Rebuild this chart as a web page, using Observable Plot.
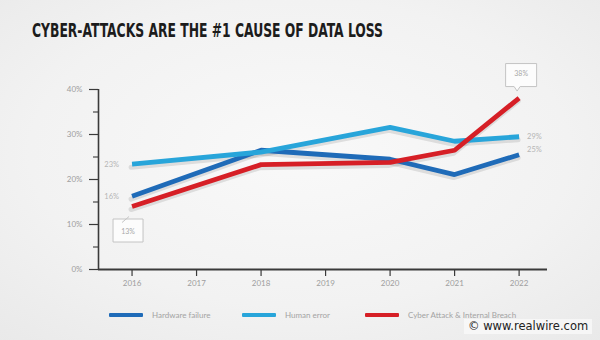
<!DOCTYPE html>
<html>
<head>
<meta charset="utf-8">
<script src="https://cdn.jsdelivr.net/npm/d3@7"></script>
<script src="https://cdn.jsdelivr.net/npm/@observablehq/plot@0.6"></script>
<style>
  html, body { margin: 0; padding: 0; }
  body { width: 600px; height: 340px; overflow: hidden; position: relative;
    background: radial-gradient(ellipse 75% 75% at 50% 45%, #f9f9f9 0%, #f2f2f2 60%, #e9e9e9 100%);
    font-family: Lato, "Open Sans", sans-serif; }
  #title { position: absolute; left: 32px; top: 21px; font-family: "Liberation Sans Narrow", "DejaVu Sans Condensed", sans-serif;
    font-weight: bold; font-size: 19px; line-height: 19px; color: #1c1c1c; white-space: nowrap; transform-origin: 0 0; }
  #chart { position: absolute; left: 0; top: 0; }
  #legend { position: absolute; left: 0; top: 309px; height: 12px; width: 600px; }
  .item { position: absolute; top: 0; display: flex; align-items: center; height: 12px; font-size: 8px; color: #a3a3a3; white-space: nowrap; }
  .sw { width: 34px; height: 4px; border-radius: 1px; margin-right: 9px; }
  #credit { position: absolute; left: 464px; top: 319px; font-family: "DejaVu Sans", sans-serif; font-size: 11.5px; line-height: 15px;
    color: #222; background: rgba(255,255,255,0.55); padding: 0 4px; white-space: nowrap; }
</style>
</head>
<body>
<div id="title"></div>
<div id="chart"></div>
<div id="legend"></div>
<div id="credit"></div>
<script>
const titleText = "CYBER-ATTACKS ARE THE #1 CAUSE OF DATA LOSS";
const creditText = "© www.realwire.com";

const seriesNames = ["Hardware failure", "Human error", "Cyber Attack & Internal Breach"];
const seriesColors = ["#1f6bb8", "#28a5da", "#d61f26"];

const years = [2016, 2018, 2020, 2021, 2022];
const hardware = [16.3, 26.5, 24.5, 21.1, 25.5];
const human = [23.4, 26.1, 31.6, 28.5, 29.5];
const cyber = [14.0, 23.3, 23.8, 26.5, 38.1];

const startLabels = ["16%", "23%", "13%"];
const endLabels = ["25%", "29%", "38%"];

const xTicks = [2016, 2017, 2018, 2019, 2020, 2021, 2022];
const yTicks = [0, 10, 20, 30, 40];
const yMinorTicks = [5, 15, 25, 35];
const xDomain = [2015.48, 2022.44];
const yDomain = [0, 40];

const valuesBySeries = [hardware, human, cyber];
const rows = seriesNames.flatMap((name, i) =>
  years.map((year, j) => ({series: name, year, value: valuesBySeries[i][j]})));

const firsts = seriesNames.map((name, i) => ({series: name, year: years[0], value: valuesBySeries[i][0], label: startLabels[i]}));
const lasts = seriesNames.map((name, i) => ({series: name, year: years[years.length - 1], value: valuesBySeries[i][years.length - 1], label: endLabels[i]}));

// callout shapes (drawn relative to the callout centre)
const calloutBelow = {
  draw(ctx) {
    ctx.moveTo(-15, -11.5); ctx.lineTo(15, -11.5); ctx.lineTo(15, 11.5); ctx.lineTo(-15, 11.5); ctx.closePath();
    ctx.moveTo(-6, -8); ctx.lineTo(1, -14);
  }
};
const calloutAbove = {
  draw(ctx) {
    ctx.moveTo(-15.5, -11.5); ctx.lineTo(15.5, -11.5); ctx.lineTo(15.5, 11.5);
    ctx.lineTo(-1, 11.5); ctx.lineTo(-4, 16); ctx.lineTo(-7, 11.5);
    ctx.lineTo(-15.5, 11.5); ctx.closePath();
  }
};

const axisColor = "#3a3a3a";
const labelColor = "#9e9e9e";

const chart = Plot.plot({
  width: 600,
  height: 340,
  marginTop: 89,
  marginBottom: 71,
  marginLeft: 98,
  marginRight: 53,
  style: {background: "transparent", fontFamily: "Lato, 'Open Sans', sans-serif", fontSize: "8px", overflow: "visible"},
  x: {domain: xDomain},
  y: {domain: yDomain},
  color: {domain: seriesNames, range: seriesColors},
  marks: [
    Plot.axisY({ticks: yTicks, tickSize: 9, tickPadding: 7, tickFormat: d => d + "%", label: null, stroke: axisColor, fill: labelColor, strokeWidth: 1.2}),
    Plot.axisY({ticks: yMinorTicks, tickSize: 5, tickFormat: () => "", label: null, stroke: axisColor, strokeWidth: 1.1}),
    Plot.axisX({ticks: xTicks, tickSize: 7, tickPadding: 4, tickFormat: d => String(d), label: null, stroke: axisColor, fill: labelColor, strokeWidth: 1.2}),
    Plot.ruleX([xDomain[0]], {stroke: axisColor, strokeWidth: 1.6}),
    Plot.ruleY([yDomain[0]], {stroke: axisColor, strokeWidth: 1.8}),
    // soft shadow under the lines
    Plot.line(rows, {x: "year", y: "value", z: "series", stroke: "#000", strokeOpacity: 0.1, strokeWidth: 5, dy: 3, dx: -1}),
    Plot.line(rows, {x: "year", y: "value", z: "series", stroke: "series", strokeWidth: 4.8, strokeLinecap: "butt", strokeLinejoin: "miter"}),
    // plain end labels
    Plot.text(firsts.filter((d, i) => i < 2), {x: "year", y: "value", text: "label", textAnchor: "end", dx: -13, fill: "#b5b5b5", fontSize: 7.5}),
    Plot.text(lasts.filter((d, i) => i === 1), {x: "year", y: "value", text: "label", textAnchor: "start", dx: 8, fill: "#b5b5b5", fontSize: 7.5}),
    Plot.text(lasts.filter((d, i) => i === 0), {x: "year", y: "value", text: "label", textAnchor: "start", dx: 8, dy: -5, fill: "#b5b5b5", fontSize: 7.5}),
    // callouts
    Plot.dot(firsts.filter((d, i) => i === 2), {x: "year", y: "value", symbol: calloutBelow, fill: "#fcfcfc", stroke: "#c4c4c4", strokeWidth: 1, dx: -4, dy: 24}),
    Plot.text(firsts.filter((d, i) => i === 2), {x: "year", y: "value", text: "label", dx: -4, dy: 25, fill: "#a8a8a8", fontSize: 7}),
    Plot.dot(lasts.filter((d, i) => i === 2), {x: "year", y: "value", symbol: calloutAbove, fill: "#fcfcfc", stroke: "#c4c4c4", strokeWidth: 1, dx: 2, dy: -23}),
    Plot.text(lasts.filter((d, i) => i === 2), {x: "year", y: "value", text: "label", dx: 2, dy: -24, fill: "#a8a8a8", fontSize: 7})
  ]
});
document.getElementById("chart").appendChild(chart);

const title = document.getElementById("title");
title.textContent = titleText;
const tw = title.getBoundingClientRect().width;
title.style.transform = `scaleX(${351 / tw})`;

document.getElementById("credit").textContent = creditText;

const legendLefts = [109, 242, 365];
const legend = document.getElementById("legend");
seriesNames.forEach((name, i) => {
  const item = document.createElement("div");
  item.className = "item";
  item.style.left = legendLefts[i] + "px";
  const sw = document.createElement("div");
  sw.className = "sw";
  sw.style.background = seriesColors[i];
  const t = document.createElement("span");
  t.textContent = name;
  item.appendChild(sw);
  item.appendChild(t);
  legend.appendChild(item);
});
</script>
</body>
</html>
